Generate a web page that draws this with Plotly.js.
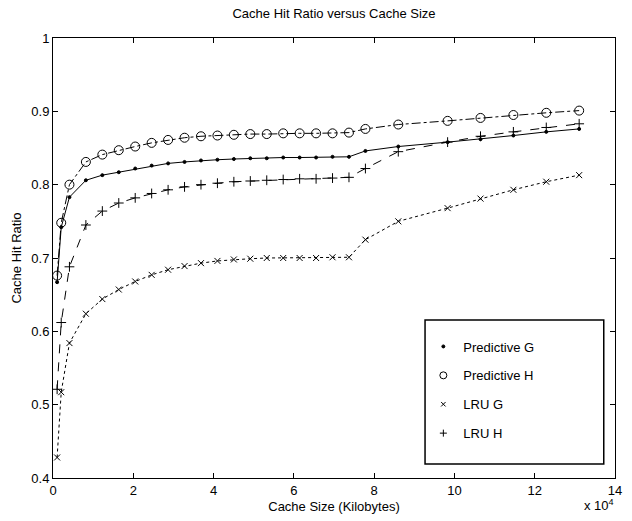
<!DOCTYPE html>
<html>
<head>
<meta charset="utf-8">
<script src="https://cdn.plot.ly/plotly-3.0.1.min.js"></script>
<style>html,body{margin:0;padding:0;background:#fff;}#chart{width:632px;height:521px;}</style>
</head>
<body>
<div id="chart"></div>
<script>
// Cache size in kilobytes
const cacheSizeKB = [1024, 2048, 4096, 8192, 12288, 16384, 20480, 24576, 28672, 32768, 36864, 40960, 45056, 49152, 53248, 57344, 61440, 65536, 69632, 73728, 77824, 86016, 98304, 106496, 114688, 122880, 131072];
const predictiveG = [0.667, 0.742, 0.783, 0.806, 0.813, 0.817, 0.822, 0.826, 0.829, 0.831, 0.833, 0.834, 0.835, 0.836, 0.836, 0.837, 0.837, 0.837, 0.838, 0.838, 0.846, 0.852, 0.858, 0.862, 0.867, 0.872, 0.876];
const predictiveH = [0.676, 0.748, 0.800, 0.831, 0.841, 0.847, 0.852, 0.857, 0.861, 0.864, 0.866, 0.867, 0.868, 0.869, 0.869, 0.870, 0.870, 0.870, 0.870, 0.871, 0.876, 0.882, 0.887, 0.891, 0.895, 0.898, 0.901];
const lruG = [0.428, 0.517, 0.584, 0.624, 0.644, 0.657, 0.668, 0.677, 0.684, 0.689, 0.693, 0.696, 0.698, 0.699, 0.700, 0.700, 0.700, 0.700, 0.701, 0.701, 0.725, 0.750, 0.768, 0.781, 0.793, 0.804, 0.813];
const lruH = [0.521, 0.612, 0.688, 0.745, 0.764, 0.775, 0.782, 0.788, 0.793, 0.797, 0.800, 0.802, 0.804, 0.805, 0.806, 0.807, 0.808, 0.808, 0.809, 0.810, 0.822, 0.845, 0.858, 0.866, 0.872, 0.878, 0.883];
const seriesNames = ['Predictive G', 'Predictive H', 'LRU G', 'LRU H'];
const xTickVals = [0, 20000, 40000, 60000, 80000, 100000, 120000, 140000];
const xTickText = ['0', '2', '4', '6', '8', '10', '12', '14'];

const seriesData = [predictiveG, predictiveH, lruG, lruH];
const styles = [
  {dash: 'solid', symbol: 'circle', size: 3, legSize: 3, lw: 1},
  {dash: 'dashdot', symbol: 'circle-open', size: 9, legSize: 7, lw: 1},
  {dash: 'dot', symbol: 'x-thin-open', size: 6, legSize: 4.5, lw: 1},
  {dash: 'dash', symbol: 'cross-thin-open', size: 7, legSize: 5, lw: 1}
];

const traces = [];
seriesData.forEach((ys, i) => {
  const s = styles[i];
  traces.push({
    x: cacheSizeKB, y: ys, mode: 'lines+markers', type: 'scatter', showlegend: false,
    line: {color: '#000', width: s.lw, dash: s.dash},
    marker: {symbol: s.symbol, size: s.size, color: '#000', line: {color: '#000', width: 1}},
    hoverinfo: 'skip'
  });
});
// legend-only entries (markers only, as in the reference legend)
seriesData.forEach((ys, i) => {
  const s = styles[i];
  traces.push({
    x: [null], y: [null], mode: 'markers', type: 'scatter', name: seriesNames[i],
    legendgroup: 'g' + i,
    marker: {symbol: s.symbol, size: s.legSize, color: '#000', line: {color: '#000', width: 1}},
    hoverinfo: 'skip'
  });
});

const font = {family: 'Liberation Sans, Arial, sans-serif', size: 13, color: '#000'};
const layout = {
  width: 632, height: 521,
  margin: {l: 53, r: 17, t: 38, b: 43},
  paper_bgcolor: '#fff', plot_bgcolor: '#fff',
  font: font,
  title: {text: 'Cache Hit Ratio versus Cache Size', font: {family: font.family, size: 13, color: '#000'}, x: 0.5, xref: 'paper', y: 1 - 13/521, yanchor: 'middle'},
  xaxis: {
    range: [0, 140000], tickvals: xTickVals, ticktext: xTickText,
    ticks: 'inside', ticklen: 5, tickcolor: '#000', tickwidth: 1,
    showline: true, linecolor: '#000', linewidth: 1, mirror: 'ticks',
    showgrid: false, zeroline: false,
    title: {text: 'Cache Size (Kilobytes)', standoff: 5, font: font},
    tickfont: font
  },
  yaxis: {
    range: [0.4, 1], dtick: 0.1, tick0: 0.4,
    ticks: 'inside', ticklen: 5, tickcolor: '#000', tickwidth: 1,
    showline: true, linecolor: '#000', linewidth: 1, mirror: 'ticks',
    showgrid: false, zeroline: false,
    title: {text: 'Cache Hit Ratio', standoff: 6, font: font},
    tickfont: font
  },
  legend: {
    x: 0.659, y: 0.333, xanchor: 'left', yanchor: 'top',
    bgcolor: 'rgba(0,0,0,0)', borderwidth: 0,
    traceorder: 'grouped', tracegroupgap: 9,
    font: font
  },
  shapes: [{
    type: 'rect', xref: 'paper', yref: 'paper',
    x0: 0.662, x1: 0.980, y0: 0.032, y1: 0.359,
    line: {color: '#000', width: 1.5}, fillcolor: 'rgba(0,0,0,0)'
  }],
  annotations: [{
    text: 'x 10<sup>4</sup>', xref: 'paper', yref: 'paper', x: 0.972, y: -0.084,
    xanchor: 'center', yanchor: 'bottom', showarrow: false, font: font
  }]
};

Plotly.newPlot('chart', traces, layout, {displayModeBar: false, staticPlot: true});
</script>
</body>
</html>
